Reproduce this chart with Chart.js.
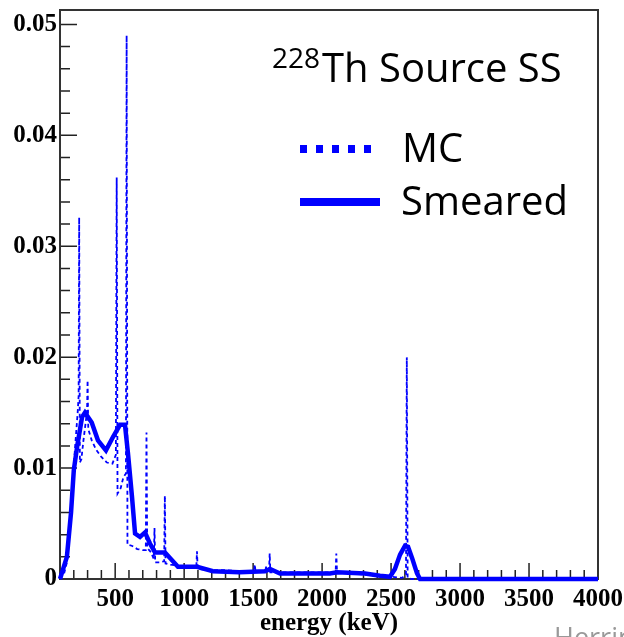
<!DOCTYPE html>
<html>
<head>
<meta charset="utf-8">
<script src="https://cdn.jsdelivr.net/npm/chart.js@4.4.0/dist/chart.umd.min.js"></script>
<style>
html, body { margin: 0; padding: 0; background: #fff; }
canvas { display: block; }
</style>
</head>
<body>
<canvas id="spectrum" width="624" height="637"></canvas>
<script>
// 228Th source, single-site spectrum: raw MC histogram and the resolution-smeared version
const mcEnergy = [100, 130, 150, 170, 190, 210, 228, 235, 239, 244, 255, 270, 290, 296, 300, 305, 330, 360, 400, 440,
  480, 505, 511, 517, 540, 560, 578, 583, 589, 620, 660, 700, 722, 727, 732, 760, 780, 785, 790, 820,
  855, 860, 865, 900, 950, 1000, 1050, 1088, 1093, 1098, 1200, 1300, 1400, 1507, 1512, 1517, 1590, 1593, 1597, 1615,
  1620, 1625, 1700, 1800, 1900, 2000, 2098, 2103, 2108, 2200, 2300, 2400, 2500, 2580, 2608, 2614, 2620, 2650, 4000];
const mcCounts = [0, 0.0005, 0.0015, 0.0045, 0.0085, 0.0120, 0.0150, 0.0165, 0.0326, 0.0105, 0.0108, 0.0125, 0.0145, 0.0150, 0.0179, 0.0135, 0.0125, 0.0117, 0.0110, 0.0105,
  0.0104, 0.0112, 0.0362, 0.0077, 0.0082, 0.0092, 0.0095, 0.0490, 0.0031, 0.0030, 0.0027, 0.0026, 0.0026, 0.0132, 0.0028, 0.0024, 0.0018, 0.0046, 0.0015, 0.0015,
  0.0016, 0.0075, 0.0014, 0.0013, 0.0012, 0.0011, 0.0010, 0.0010, 0.0025, 0.0009, 0.0008, 0.0008, 0.0007, 0.0007, 0.0013, 0.0007, 0.0007, 0.0012, 0.0007, 0.0007,
  0.0023, 0.0006, 0.0006, 0.0006, 0.0006, 0.0006, 0.0006, 0.0023, 0.0006, 0.0005, 0.0004, 0.0003, 0.0002, 0.0001, 0.0004, 0.0200, 0.0001, 0, 0];

const smearEnergy = [100, 150, 180, 200, 225, 260, 281, 330, 375, 433, 484, 535, 571, 593, 622, 644, 680, 716, 752, 789,
  861, 912, 955, 1093, 1209, 1400, 1586, 1622, 1695, 2057, 2108, 2311, 2420, 2492, 2528, 2565, 2601, 2623, 2652, 2688, 2710, 4000];
const smearCounts = [0, 0.0020, 0.0060, 0.0098, 0.0120, 0.0146, 0.0150, 0.0141, 0.0125, 0.0116, 0.0128, 0.0139, 0.0139, 0.0113, 0.0074, 0.0041, 0.0038, 0.0042, 0.0032, 0.0024,
  0.0024, 0.0017, 0.0011, 0.0011, 0.0007, 0.0006, 0.0007, 0.0009, 0.0005, 0.0005, 0.0006, 0.0005, 0.0003, 0.0002, 0.0009, 0.0022, 0.0030, 0.0029, 0.0019, 0.0005, 0, 0];

const energyLabels = [500, 1000, 1500, 2000, 2500, 3000, 3500, 4000];
const rateLabels = [0, 0.01, 0.02, 0.03, 0.04, 0.05];

const BLUE = '#0000ff';
const SERIF = '"Liberation Serif", "Times New Roman", serif';
const SANS = '"Open Sans", "Noto Sans", sans-serif';

const near = (list, v) => list.some(l => Math.abs(l - v) < 1e-9);
const onStep = (v, step) => Math.abs(v / step - Math.round(v / step)) < 1e-6;

function toPoints(xs, ys) {
  return xs.map((e, i) => ({ x: e, y: ys[i] }));
}

// ticks point into the frame, ROOT style, so they are drawn here instead of by the scales
const rootFrame = {
  id: 'rootFrame',
  beforeDatasetsDraw(chart) {
    const { ctx, chartArea: a, scales: { x, y } } = chart;
    ctx.save();
    ctx.strokeStyle = '#222';
    ctx.lineWidth = 1.5;
    ctx.beginPath();
    x.ticks.forEach(t => {
      const px = x.getPixelForValue(t.value);
      const len = near(energyLabels, t.value) ? 16 : 9;
      ctx.moveTo(px, a.bottom);
      ctx.lineTo(px, a.bottom - len);
    });
    y.ticks.forEach(t => {
      const py = y.getPixelForValue(t.value);
      const len = near(rateLabels, t.value) ? 17 : 10;
      ctx.moveTo(a.left, py);
      ctx.lineTo(a.left + len, py);
    });
    ctx.stroke();
    ctx.lineWidth = 2;
    ctx.strokeStyle = '#333';
    ctx.strokeRect(a.left, a.top, a.right - a.left, a.bottom - a.top);
    ctx.restore();
  },
  afterDraw(chart) {
    const ctx = chart.ctx;
    ctx.save();
    ctx.fillStyle = '#000';
    ctx.textBaseline = 'alphabetic';
    ctx.font = '28px ' + SANS;
    ctx.fillText('228', 272, 68);
    const supW = ctx.measureText('228').width;
    ctx.font = '40px ' + SANS;
    ctx.fillText('Th Source SS', 272 + supW + 2, 82);
    ctx.fillText('MC', 402, 162);
    ctx.fillText('Smeared', 401, 215);

    ctx.strokeStyle = BLUE;
    ctx.lineWidth = 8;
    ctx.setLineDash([7, 9]);
    ctx.beginPath();
    ctx.moveTo(300, 149);
    ctx.lineTo(372, 149);
    ctx.stroke();
    ctx.setLineDash([]);
    ctx.beginPath();
    ctx.moveTo(300, 202);
    ctx.lineTo(380, 202);
    ctx.stroke();

    ctx.fillStyle = '#999';
    ctx.font = '27px ' + SANS;
    ctx.fillText('Herrin', 554, 647);
    ctx.restore();
  }
};

new Chart(document.getElementById('spectrum'), {
  type: 'line',
  data: {
    datasets: [
      {
        label: 'Smeared',
        data: toPoints(smearEnergy, smearCounts),
        borderColor: BLUE,
        borderWidth: 4.5,
        pointRadius: 0,
        tension: 0,
        clip: 6
      },
      {
        label: 'MC',
        data: toPoints(mcEnergy, mcCounts),
        borderColor: BLUE,
        borderWidth: 1.8,
        borderDash: [4, 3],
        pointRadius: 0,
        tension: 0,
        clip: 4
      }
    ]
  },
  options: {
    responsive: false,
    animation: false,
    devicePixelRatio: 1,
    layout: { padding: { top: 10, right: 26, left: 0, bottom: 0 } },
    plugins: { legend: { display: false }, tooltip: { enabled: false } },
    scales: {
      x: {
        type: 'linear',
        min: 100,
        max: 4000,
        grid: { display: false, drawTicks: false },
        border: { display: false },
        ticks: {
          stepSize: 100,
          includeBounds: false,
          autoSkip: false,
          maxRotation: 0,
          minRotation: 0,
          padding: 6,
          color: '#000',
          font: { family: SERIF, size: 25, weight: 'bold' },
          callback: v => near(energyLabels, v) ? String(v) : ''
        },
        title: {
          display: true,
          text: 'energy (keV)',
          color: '#000',
          font: { family: SERIF, size: 25, weight: 'bold' },
          padding: { top: 0, bottom: -2 }
        },
        afterFit(scale) {
          scale.height = 58;
          scale.paddingLeft = 0;
          scale.paddingRight = 0;
        }
      },
      y: {
        min: 0,
        max: 0.0513,
        grid: { display: false, drawTicks: false },
        border: { display: false },
        ticks: {
          stepSize: 0.002,
          includeBounds: false,
          autoSkip: false,
          padding: 3,
          color: '#000',
          font: { family: SERIF, size: 25, weight: 'bold' },
          callback: v => near(rateLabels, v) ? (v === 0 ? '0' : v.toFixed(2)) : ''
        },
        afterBuildTicks(scale) {
          scale.ticks = scale.ticks.filter(t => onStep(t.value, 0.002));
        },
        afterFit(scale) {
          scale.width = 60;
          scale.paddingTop = 0;
          scale.paddingBottom = 0;
        }
      }
    }
  },
  plugins: [rootFrame]
});
</script>
</body>
</html>
